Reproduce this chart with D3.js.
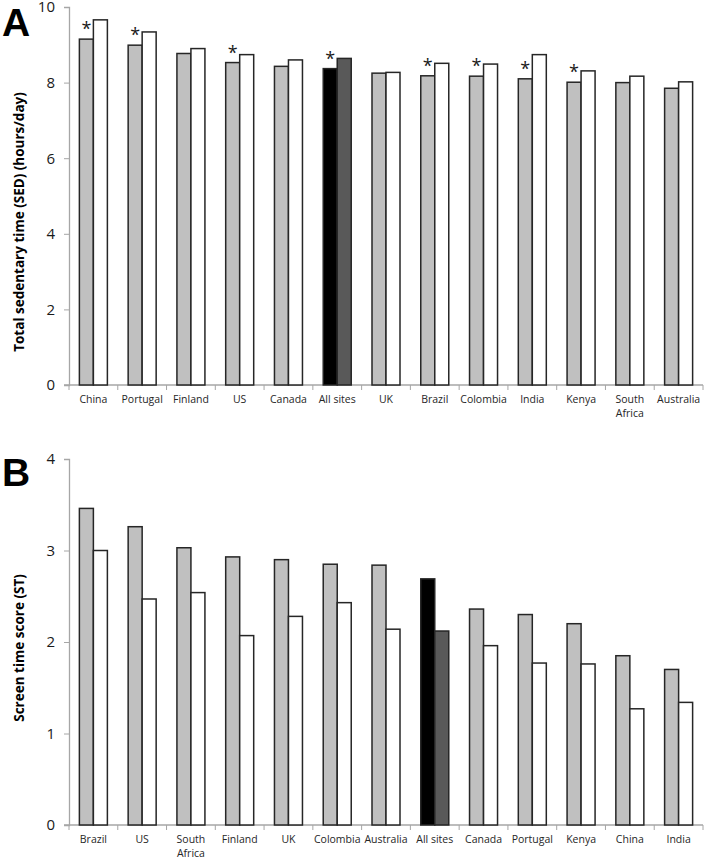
<!DOCTYPE html>
<html>
<head>
<meta charset="utf-8">
<script src="https://cdn.jsdelivr.net/npm/d3@7"></script>
<style>
body{margin:0;background:#fff;}
svg{display:block;font-family:"Open Sans",sans-serif;}
</style>
</head>
<body>
<svg id="chart" width="707" height="858"></svg>
<script>
// Panel A data
const catsA = ["China","Portugal","Finland","US","Canada","All sites","UK","Brazil","Colombia","India","Kenya","South Africa","Australia"];
const sedFirst = [9.15,8.99,8.77,8.53,8.43,8.37,8.25,8.18,8.17,8.10,8.01,8.00,7.85];
const sedSecond = [9.66,9.34,8.90,8.74,8.60,8.64,8.27,8.51,8.49,8.74,8.31,8.17,8.02];
const sedStar = [true,true,false,true,false,true,false,true,true,true,true,false,false];
const ticksA = [0,2,4,6,8,10];

// Panel B data
const catsB = ["Brazil","US","South Africa","Finland","UK","Colombia","Australia","All sites","Canada","Portugal","Kenya","China","India"];
const stFirst = [3.46,3.26,3.03,2.93,2.90,2.85,2.84,2.69,2.36,2.30,2.20,1.85,1.70];
const stSecond = [3.00,2.47,2.54,2.07,2.28,2.43,2.14,2.12,1.96,1.77,1.76,1.27,1.34];
const ticksB = [0,1,2,3,4];

const svg = d3.select("#chart");

function panel(cfg){
  const g = svg.append("g");
  const x = d3.scaleBand().domain(cfg.cats).range([69,703]).paddingInner(0).paddingOuter(0);
  const y = d3.scaleLinear().domain([0,cfg.max]).range([cfg.y0,cfg.y1]);
  const bw = 14;
  // y axis
  const ya = d3.axisLeft(y).tickValues(cfg.ticks).tickFormat(d3.format("d")).tickSize(5).tickPadding(9);
  const yg = g.append("g").attr("transform","translate(69,0)").call(ya)
    .attr("font-size",15).attr("font-family","Open Sans");
  yg.select(".domain").attr("stroke","#a6a6a6").attr("stroke-width",1.3);
  yg.selectAll(".tick line").attr("stroke","#a6a6a6");
  yg.selectAll(".tick text").attr("fill","#1a1a1a");
  // x axis
  const xg = g.append("g").attr("transform",`translate(0,${cfg.y0})`);
  xg.append("line").attr("x1",64).attr("x2",703).attr("y1",0).attr("y2",0).attr("stroke","#a6a6a6").attr("stroke-width",1.3);
  const bounds = cfg.cats.map(c=>x(c)).concat([703]);
  xg.selectAll("line.tk").data(bounds).join("line").attr("class","tk")
    .attr("x1",d=>d).attr("x2",d=>d).attr("y1",0).attr("y2",5).attr("stroke","#a6a6a6");
  const lab = xg.selectAll("text.cat").data(cfg.cats).join("text").attr("class","cat")
    .attr("x",d=>x(d)+x.bandwidth()/2).attr("y",17.5)
    .attr("text-anchor","middle").attr("font-size",10.5).attr("fill","#262626");
  lab.each(function(d){
    const parts = d==="South Africa" ? ["South","Africa"] : [d];
    d3.select(this).selectAll("tspan").data(parts).join("tspan")
      .attr("x",x(d)+x.bandwidth()/2).attr("dy",(p,i)=>i===0?0:14).text(p=>p);
  });
  // bars
  const cx = c=>x(c)+x.bandwidth()/2;
  const isAll = c=>c==="All sites";
  g.selectAll("rect.b1").data(cfg.cats).join("rect").attr("class","b1")
    .attr("x",c=>cx(c)-bw).attr("width",bw)
    .attr("y",(c,i)=>y(cfg.v1[i])).attr("height",(c,i)=>cfg.y0-y(cfg.v1[i]))
    .attr("fill",c=>isAll(c)?"#000":"#c0c0c0").attr("stroke","#262626").attr("stroke-width",1.5);
  g.selectAll("rect.b2").data(cfg.cats).join("rect").attr("class","b2")
    .attr("x",c=>cx(c)).attr("width",bw)
    .attr("y",(c,i)=>y(cfg.v2[i])).attr("height",(c,i)=>cfg.y0-y(cfg.v2[i]))
    .attr("fill",c=>isAll(c)?"#595959":"#fff").attr("stroke","#262626").attr("stroke-width",1.5);
  if(cfg.star){
    g.selectAll("text.star").data(cfg.cats.filter((c,i)=>cfg.star[i])).join("text").attr("class","star")
      .attr("x",c=>cx(c)-bw/2).attr("y",c=>y(cfg.v1[cfg.cats.indexOf(c)])-4)
      .attr("text-anchor","middle").attr("font-size",18).attr("fill","#1a1a1a").text("*");
  }
  // axis title
  g.append("text").attr("transform",`translate(24,${cfg.titleY}) rotate(-90)`)
    .attr("text-anchor","middle").attr("font-weight","bold").attr("font-size",13.5).attr("fill","#000")
    .text(cfg.title);
  // panel letter
  g.append("text").attr("x",2).attr("y",cfg.letterY).attr("font-weight","bold")
    .attr("font-size",39).attr("font-family","Liberation Sans, Arial").attr("fill","#000").text(cfg.letter);
}

panel({cats:catsA,v1:sedFirst,v2:sedSecond,star:sedStar,ticks:ticksA,max:10,y0:385,y1:7,
  title:"Total sedentary time (SED) (hours/day)",titleY:222,letter:"A",letterY:36});
panel({cats:catsB,v1:stFirst,v2:stSecond,star:null,ticks:ticksB,max:4,y0:825,y1:459,
  title:"Screen time score (ST)",titleY:648,letter:"B",letterY:486});
</script>
</body>
</html>
